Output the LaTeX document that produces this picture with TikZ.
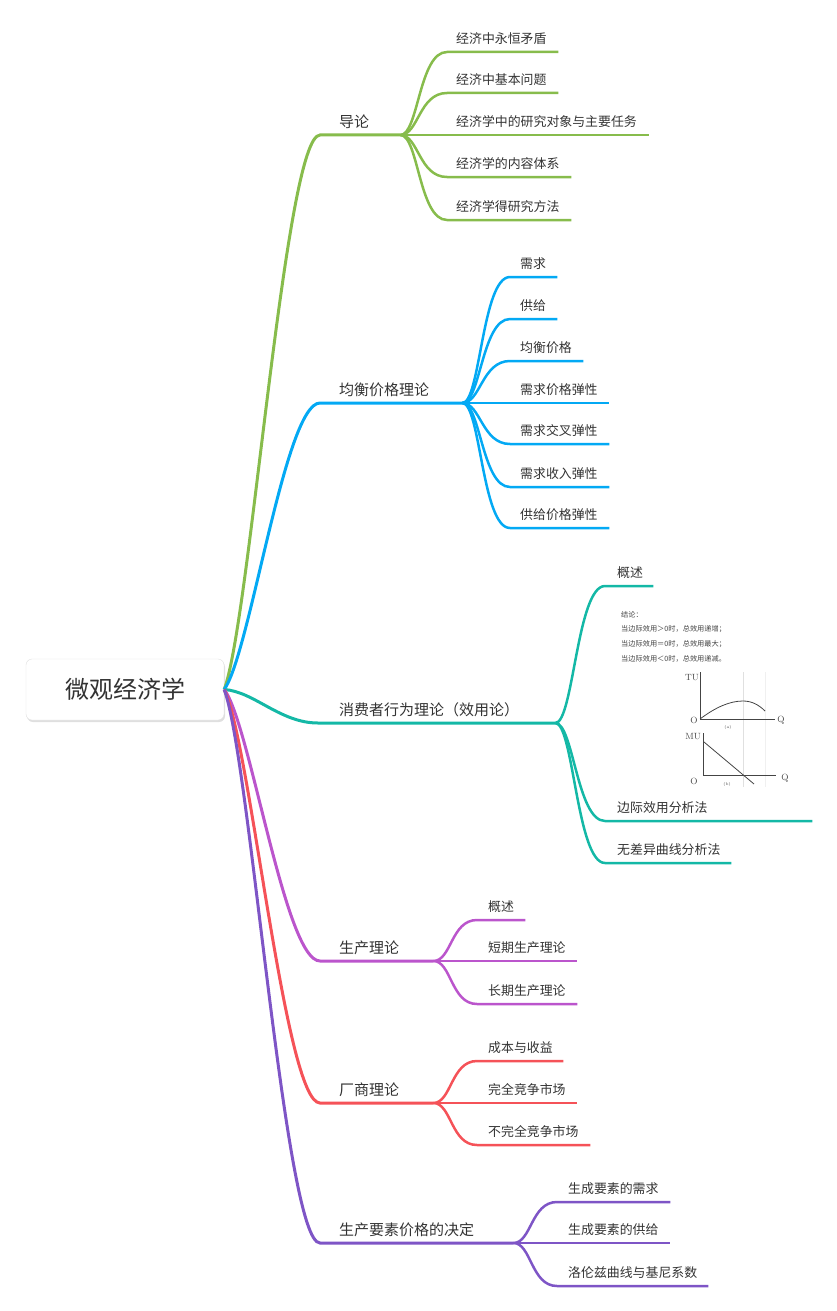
\documentclass[tikz,border=0pt]{standalone}
\usepackage{fontspec}
\newfontfamily\cjk{Noto Sans CJK SC}
\usetikzlibrary{shadows}
\definecolor{cA}{HTML}{87BC4C}
\definecolor{cB}{HTML}{03A9F4}
\definecolor{cC}{HTML}{14B8A6}
\definecolor{cD}{HTML}{BB55CC}
\definecolor{cE}{HTML}{F55258}
\definecolor{cF}{HTML}{7E55C6}
\definecolor{txt}{HTML}{333333}
\definecolor{plt}{HTML}{444444}
\begin{document}
\begin{tikzpicture}[x=1pt,y=-1pt,
  rootbox/.style={draw=black!12, fill=white, rounded corners=6pt, minimum width=198pt, minimum height=61pt,
    drop shadow={shadow xshift=1pt,shadow yshift=-2pt,opacity=0.25}, font=\cjk\fontsize{24}{28}\selectfont, text=txt, inner sep=0pt},
  branch/.style={anchor=south west, inner xsep=0pt, inner ysep=0pt, text depth=7pt, align=left,
    font=\cjk\fontsize{15}{18}\selectfont, text=txt},
  leaf/.style={anchor=south west, inner xsep=0pt, inner ysep=0pt, text depth=8.5pt, align=left,
    font=\cjk\fontsize{12.9}{15}\selectfont, text=txt},
  mainln/.style={line width=3pt},
  leafln/.style={line width=2.5pt},
  note/.style={anchor=base west, inner sep=0pt, font=\cjk\fontsize{7.2}{9}\selectfont, text=plt},
  axlbl/.style={inner sep=0pt, font=\fontsize{9}{10}\selectfont, text=plt},
  tiny/.style={inner sep=0pt, font=\fontsize{4}{5}\selectfont, text=plt},
  axis/.style={draw=plt, line width=0.8pt},
]
\useasboundingbox (0,0) rectangle (837,1311);

% root
\node[rootbox] (root) at (125,689.5) {微观经济学};

% branch labels
\node[branch, text width=80pt]  (b1) at (320,135)  {\hspace*{19pt}导论};
\node[branch, text width=142pt] (b2) at (320,403)  {\hspace*{19pt}均衡价格理论};
\node[branch, text width=237pt] (b3) at (318,723)  {\hspace*{21pt}消费者行为理论（效用论）};
\node[branch, text width=113pt] (b4) at (320,961)  {\hspace*{19pt}生产理论};
\node[branch, text width=113pt] (b5) at (320,1103) {\hspace*{19pt}厂商理论};
\node[branch, text width=193pt] (b6) at (320,1243) {\hspace*{19pt}生产要素价格的决定};

% main connectors
\draw[cA, mainln] (root.east) .. controls +(26,-69) and +(-35,0) .. (b1.south west) -- (b1.south east);
\draw[cB, mainln] (root.east) .. controls +(26,-36) and +(-35,0) .. (b2.south west) -- (b2.south east);
\draw[cC, mainln] (root.east) .. controls +(30,2) and +(-38,0) .. (b3.south west) -- (b3.south east);
\draw[cD, mainln] (root.east) .. controls +(26,34) and +(-35,0) .. (b4.south west) -- (b4.south east);
\draw[cE, mainln] (root.east) .. controls +(26,52) and +(-35,0) .. (b5.south west) -- (b5.south east);
\draw[cF, mainln] (root.east) .. controls +(26,69) and +(-35,0) .. (b6.south west) -- (b6.south east);

% green children
\node[leaf, text width=111pt] (a1) at (447,52)  {\hspace*{9pt}经济中永恒矛盾};
\node[leaf, text width=111pt] (a2) at (447,93)  {\hspace*{9pt}经济中基本问题};
\node[leaf, text width=202pt] (a3) at (447,135) {\hspace*{9pt}经济学中的研究对象与主要任务};
\node[leaf, text width=124pt] (a4) at (447,177) {\hspace*{9pt}经济学的内容体系};
\node[leaf, text width=124pt] (a5) at (447,220) {\hspace*{9pt}经济学得研究方法};
\foreach \n in {a1,a2,a3,a4,a5}
  \draw[cA, leafln] (b1.south east) .. controls +(18,0) and +(-28,0) .. (\n.south west) -- (\n.south east);

% blue children
\node[leaf, text width=47pt] (p1) at (510,277) {\hspace*{10pt}需求};
\node[leaf, text width=47pt] (p2) at (510,319) {\hspace*{10pt}供给};
\node[leaf, text width=73pt] (p3) at (510,361) {\hspace*{10pt}均衡价格};
\node[leaf, text width=99pt] (p4) at (510,403) {\hspace*{10pt}需求价格弹性};
\node[leaf, text width=99pt] (p5) at (510,444) {\hspace*{10pt}需求交叉弹性};
\node[leaf, text width=99pt] (p6) at (510,487) {\hspace*{10pt}需求收入弹性};
\node[leaf, text width=99pt] (p7) at (510,528) {\hspace*{10pt}供给价格弹性};
\foreach \n in {p1,p2,p3,p4,p5,p6,p7}
  \draw[cB, leafln] (b2.south east) .. controls +(18,0) and +(-28,0) .. (\n.south west) -- (\n.south east);

% teal children
\node[leaf, text width=48pt]  (c1) at (605,586) {\hspace*{12pt}概述};
\node[leaf, text width=207pt] (c2) at (605,821) {\hspace*{12pt}边际效用分析法};
\node[leaf, text width=126pt] (c3) at (605,863) {\hspace*{12pt}无差异曲线分析法};
\foreach \n in {c1,c2,c3}
  \draw[cC, leafln] (b3.south east) .. controls +(18,0) and +(-28,0) .. (\n.south west) -- (\n.south east);

% image content under 概述
\node[note] (t0) at (621,617) {结论：};
\node[note] (t1) at (621,631) {当边际效用＞0时，总效用递增；};
\node[note] (t2) at (621,646) {当边际效用＝0时，总效用最大；};
\node[note] (t3) at (621,661) {当边际效用＜0时，总效用递减。};
\draw[black!12, line width=0.6pt] (743,672) -- (743,787);
\draw[black!6, line width=0.6pt] (765,672) -- (765,787);
\draw[axis] (700,672) -- (700,719.5) -- (775,719.5);
\draw[axis] (700,719) .. controls (716,707) and (730,701) .. (743,701) .. controls (752,701) and (759,705) .. (765,711);
\node[axlbl] (tu) at (692,678) {TU};
\node[axlbl] (o1) at (694,720) {O};
\node[axlbl] (q1) at (781,720) {Q};
\node[tiny] (la) at (728,727) {(a)};
\draw[axis] (703,733) -- (703,775) -- (776,775);
\draw[axis] (704,742) -- (754,784);
\node[axlbl] (mu) at (693,737) {MU};
\node[axlbl] (o2) at (694,781) {O};
\node[axlbl] (q2) at (785,778) {Q};
\node[tiny] (lb) at (727,784) {(b)};

% magenta children
\node[leaf, text width=48pt]  (d1) at (477,920)  {\hspace*{11pt}概述};
\node[leaf, text width=100pt] (d2) at (477,961)  {\hspace*{11pt}短期生产理论};
\node[leaf, text width=100pt] (d3) at (477,1004) {\hspace*{11pt}长期生产理论};
\foreach \n in {d1,d2,d3}
  \draw[cD, leafln] (b4.south east) .. controls +(18,0) and +(-26,0) .. (\n.south west) -- (\n.south east);

% red children
\node[leaf, text width=86pt]  (e1) at (477,1061) {\hspace*{11pt}成本与收益};
\node[leaf, text width=100pt] (e2) at (477,1103) {\hspace*{11pt}完全竞争市场};
\node[leaf, text width=113pt] (e3) at (477,1145) {\hspace*{11pt}不完全竞争市场};
\foreach \n in {e1,e2,e3}
  \draw[cE, leafln] (b5.south east) .. controls +(18,0) and +(-26,0) .. (\n.south west) -- (\n.south east);

% purple children
\node[leaf, text width=113pt] (f1) at (557,1202) {\hspace*{11pt}生成要素的需求};
\node[leaf, text width=113pt] (f2) at (557,1243) {\hspace*{11pt}生成要素的供给};
\node[leaf, text width=151pt] (f3) at (557,1286) {\hspace*{11pt}洛伦兹曲线与基尼系数};
\foreach \n in {f1,f2,f3}
  \draw[cF, leafln] (b6.south east) .. controls +(18,0) and +(-26,0) .. (\n.south west) -- (\n.south east);
\end{tikzpicture}
\end{document}
